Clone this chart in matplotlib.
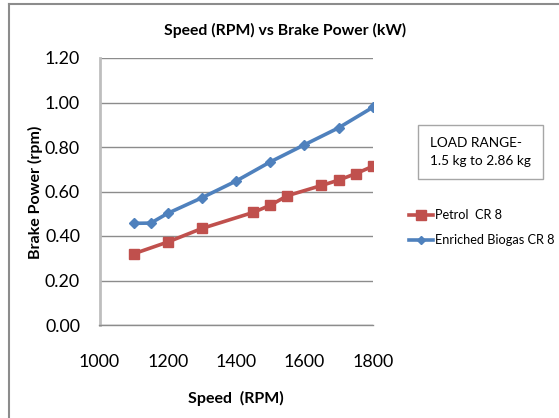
import matplotlib
matplotlib.use('Agg')
import matplotlib.pyplot as plt
from matplotlib.lines import Line2D

plt.rcParams['font.family'] = ['Lato', 'DejaVu Sans']

# data
petrol_speed = [1100, 1200, 1300, 1450, 1500, 1550, 1650, 1700, 1750, 1800]
petrol_power = [0.32, 0.373, 0.434, 0.506, 0.538, 0.581, 0.627, 0.651, 0.680, 0.713]
biogas_speed = [1100, 1150, 1200, 1300, 1400, 1500, 1600, 1700, 1800]
biogas_power = [0.457, 0.458, 0.502, 0.572, 0.647, 0.733, 0.810, 0.886, 0.978]
y_ticks = [0.0, 0.2, 0.4, 0.6, 0.8, 1.0, 1.2]
x_ticks = [1000, 1200, 1400, 1600, 1800]

red = '#C0504D'
blue = '#4F81BD'
grid_c = '#8C8C8C'

W, H = 559, 418
fig = plt.figure(figsize=(W / 100, H / 100), dpi=100)

# plot area in pixels: left 99.5, right 372.7, top 58, bottom 325
ax = fig.add_axes([99.5 / W, 1 - 325 / H, (372.7 - 99.5) / W, (325 - 58) / H])

ax.plot(petrol_speed, petrol_power, color=red, lw=2.6, marker='s', ms=7.5,
        label='Petrol  CR 8', zorder=3)
ax.plot(biogas_speed, biogas_power, color=blue, lw=2.6, marker='D', ms=5.5,
        label='Enriched Biogas CR 8', zorder=3)

ax.set_xlim(1000, 1800)
ax.set_ylim(0, 1.2)
ax.set_xticks(x_ticks)
ax.set_yticks(y_ticks)
ax.set_yticklabels(['%.2f' % v for v in y_ticks])
ax.yaxis.grid(True, color=grid_c, lw=1)
ax.set_axisbelow(True)
for s in ['top', 'right']:
    ax.spines[s].set_visible(False)
ax.spines['left'].set_color('#BEBEBE')
ax.spines['left'].set_linewidth(2)
ax.spines['bottom'].set_color(grid_c)
ax.spines['bottom'].set_linewidth(1)
ax.tick_params(length=0, labelsize=12.8, colors='black')
ax.tick_params(axis='x', pad=21)
ax.tick_params(axis='y', pad=14)

fig.text(285 / W, 1 - 30 / H, 'Speed (RPM) vs Brake Power (kW)', ha='center', va='center',
         fontsize=11.3, fontweight='bold')
fig.text(236 / W, 1 - 398 / H, 'Speed  (RPM)', ha='center', va='center',
         fontsize=11.5, fontweight='bold')
fig.text(35 / W, 1 - 192 / H, 'Brake Power (rpm)', ha='center', va='center',
         rotation=90, fontsize=11.5, fontweight='bold')

# load range box
fig.text(430 / W, 1 - 152 / H, 'LOAD RANGE-\n1.5 kg to 2.86 kg', ha='left', va='center',
         fontsize=9.8, linespacing=1.6,
         bbox=dict(boxstyle='square,pad=0.9', fc='white', ec='#A6A6A6', lw=1))

handles = [Line2D([], [], color=red, lw=2.6, marker='s', ms=7.5),
           Line2D([], [], color=blue, lw=2.6, marker='D', ms=4.5)]
fig.legend(handles, ['Petrol  CR 8', 'Enriched Biogas CR 8'],
           loc='upper left', bbox_to_anchor=(409 / W, 1 - 209 / H), frameon=False,
           fontsize=9.2, handlelength=1.9, handletextpad=0.15, labelspacing=1.05,
           borderpad=0, borderaxespad=0)

# outer chart border (top and left edges visible)
fig.add_artist(Line2D([9 / W, 1], [1 - 4 / H, 1 - 4 / H], color='#8C8C8C', lw=1.5,
                      transform=fig.transFigure))
fig.add_artist(Line2D([9 / W, 9 / W], [0, 1 - 4 / H], color='#8C8C8C', lw=1.5,
                      transform=fig.transFigure))

fig.savefig('out.png', dpi=100)
